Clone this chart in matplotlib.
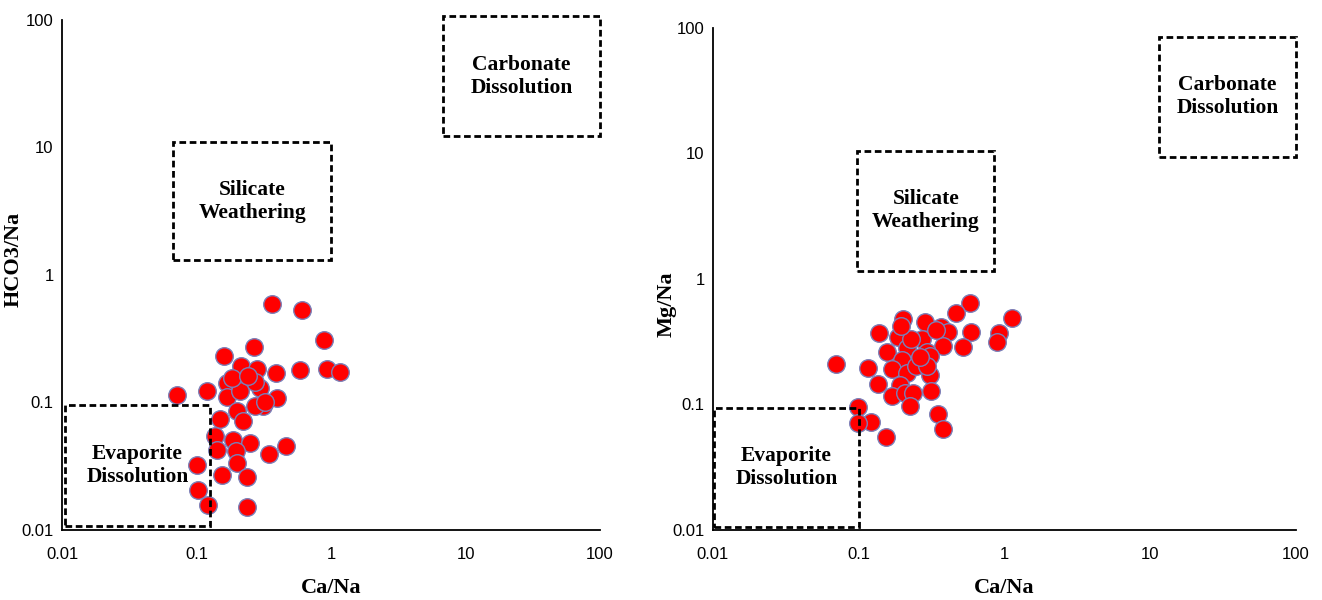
import numpy as np
import matplotlib.pyplot as plt
from matplotlib.patches import Rectangle

# left panel: Ca/Na vs HCO3/Na
ca_na_1 = [0.362, 0.605, 0.887, 0.268, 0.160, 0.213, 0.281, 0.390, 0.589, 0.933,
           1.17, 0.0713, 0.119, 0.169, 0.204, 0.296, 0.169, 0.394, 0.312, 0.200,
           0.150, 0.222, 0.137, 0.187, 0.250, 0.462, 0.346, 0.141, 0.197, 0.100,
           0.200, 0.154, 0.236, 0.103, 0.122, 0.236, 0.272, 0.210, 0.272, 0.325,
           0.185, 0.240]
hco3_na = [0.593, 0.533, 0.307, 0.274, 0.230, 0.195, 0.184, 0.169, 0.179, 0.184,
           0.172, 0.114, 0.122, 0.141, 0.146, 0.129, 0.111, 0.109, 0.093, 0.085,
           0.074, 0.071, 0.055, 0.0505, 0.048, 0.0453, 0.0394, 0.0424, 0.0414, 0.0322,
           0.0334, 0.0270, 0.0259, 0.0207, 0.0157, 0.0151, 0.145, 0.122, 0.093, 0.100,
           0.155, 0.160]

# right panel: Ca/Na vs Mg/Na
ca_na_2 = [0.579, 0.465, 1.135, 0.200, 0.284, 0.365, 0.411, 0.589, 0.138, 0.920,
           0.187, 0.270, 0.883, 0.380, 0.516, 0.213, 0.157, 0.292, 0.197, 0.0698,
           0.116, 0.168, 0.213, 0.310, 0.136, 0.191, 0.313, 0.168, 0.207, 0.236,
           0.224, 0.0993, 0.351, 0.121, 0.0993, 0.380, 0.154, 0.307, 0.249, 0.292,
           0.230, 0.340, 0.195, 0.262]
mg_na = [0.647, 0.533, 0.486, 0.478, 0.457, 0.417, 0.380, 0.380, 0.373, 0.369,
         0.347, 0.331, 0.316, 0.292, 0.288, 0.279, 0.262, 0.262, 0.226, 0.210,
         0.194, 0.190, 0.179, 0.171, 0.146, 0.143, 0.128, 0.117, 0.123, 0.123,
         0.0966, 0.0955, 0.0832, 0.073, 0.0708, 0.0634, 0.0555, 0.242, 0.201, 0.201,
         0.330, 0.395, 0.420, 0.240]

# boxes: (label, x0, x1, y0, y1)
boxes_1 = [("Carbonate\nDissolution", 6.8, 100, 12.2, 107),
           ("Silicate\nWeathering", 0.067, 1.0, 1.3, 11.0),
           ("Evaporite\nDissolution", 0.0105, 0.126, 0.0107, 0.095)]
boxes_2 = [("Carbonate\nDissolution", 11.5, 100, 9.3, 85),
           ("Silicate\nWeathering", 0.098, 0.85, 1.16, 10.4),
           ("Evaporite\nDissolution", 0.0102, 0.1, 0.0105, 0.093)]

ticks = [0.01, 0.1, 1, 10, 100]
tick_labels = ["0.01", "0.1", "1", "10", "100"]

fig = plt.figure(figsize=(13.22, 6), dpi=100)
ax1 = fig.add_axes([0.0469, 0.1167, 0.407, 0.85])
ax2 = fig.add_axes([0.5393, 0.1167, 0.441, 0.837])

def setup(ax, x, y, boxes, ylabel):
    ax.scatter(x, y, s=160, c='#ff0000', edgecolors='#7b7fb8', linewidths=1.0, zorder=2)
    for label, x0, x1, y0, y1 in boxes:
        r = Rectangle((x0, y0), x1 - x0, y1 - y0, fill=False, ec='black', lw=2.0,
                      ls=(0, (2.4, 1.3)), zorder=3, clip_on=False)
        ax.add_patch(r)
        ax.text(np.sqrt(x0 * x1), np.sqrt(y0 * y1), label, ha='center', va='center',
                family='Liberation Serif', fontweight='bold', fontsize=15.5,
                linespacing=1.2, zorder=1)
    ax.set_xscale('log')
    ax.set_yscale('log')
    ax.set_xlim(0.01, 100)
    ax.set_ylim(0.01, 100)
    ax.minorticks_off()
    ax.set_xticks(ticks)
    ax.set_xticklabels(tick_labels)
    ax.set_yticks(ticks)
    ax.set_yticklabels(tick_labels)
    ax.tick_params(length=0, labelsize=12, labelfontfamily='Liberation Sans')
    ax.tick_params(axis='x', pad=12)
    ax.tick_params(axis='y', pad=6)
    for s in ['top', 'right']:
        ax.spines[s].set_visible(False)
    for s in ['left', 'bottom']:
        ax.spines[s].set_linewidth(1.3)
    ax.set_xlabel('Ca/Na', family='Liberation Serif', fontweight='bold', fontsize=16)
    ax.set_ylabel(ylabel, family='Liberation Serif', fontweight='bold', fontsize=16)
    ax.xaxis.set_label_coords(0.5, -0.095)

setup(ax1, ca_na_1, hco3_na, boxes_1, 'HCO3/Na')
setup(ax2, ca_na_2, mg_na, boxes_2, 'Mg/Na')
ax1.yaxis.set_label_coords(-0.072, 0.53)
ax2.yaxis.set_label_coords(-0.062, 0.45)

fig.savefig('out.png', dpi=100)
